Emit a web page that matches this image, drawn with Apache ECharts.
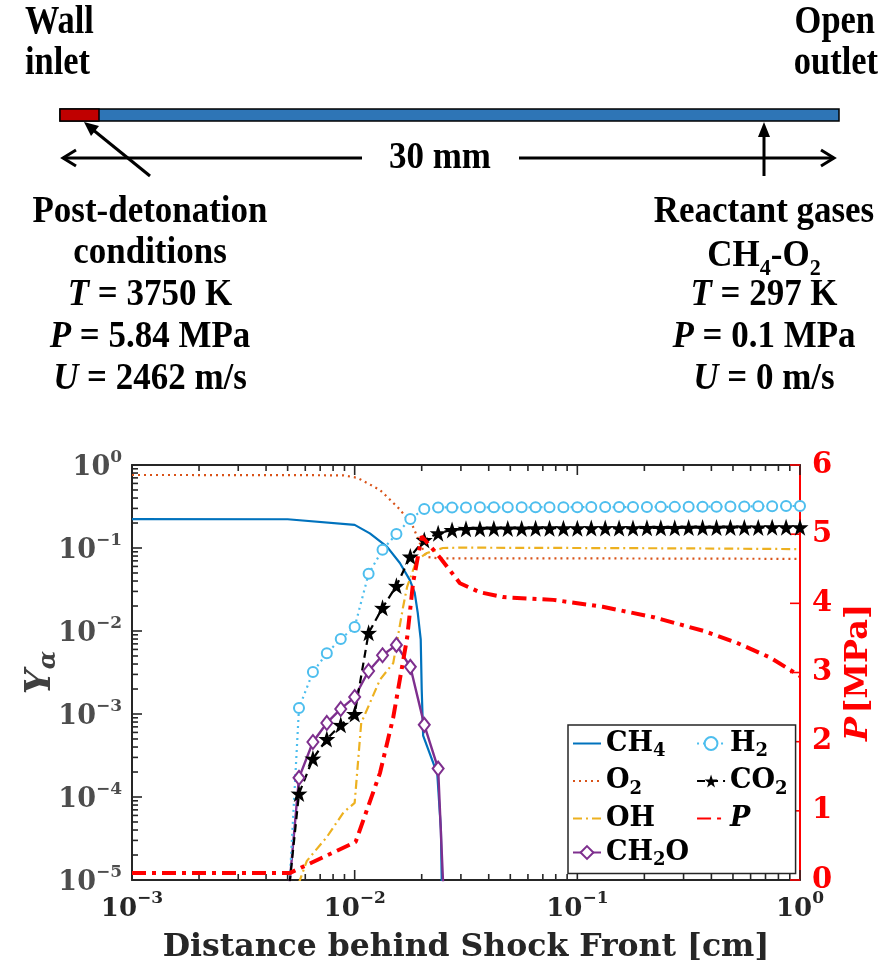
<!DOCTYPE html>
<html><head><meta charset="utf-8">
<script src="https://cdn.jsdelivr.net/npm/echarts@6/dist/echarts.min.js"></script>
<style>html,body{margin:0;padding:0;background:#fff}#c{width:885px;height:969px}</style>
</head><body><div id="c"></div>
<script>
// ---------- data ----------
const xTickExps = [-3, -2, -1, 0];
const yTickExps = [-5, -4, -3, -2, -1, 0];
const pTicks = [0, 1, 2, 3, 4, 5, 6];

const xGrid = [0.005623,0.006494,0.007499,0.008660,0.01,0.01155,0.01334,0.01540,0.01778,0.02054,
  0.02371,0.02738,0.03162,0.03652,0.04217,0.04870,0.05623,0.06494,0.07499,0.08660,
  0.1,0.1155,0.1334,0.1540,0.1778,0.2054,0.2371,0.2738,0.3162,0.3652,
  0.4217,0.4870,0.5623,0.6494,0.7499,0.8660,1.0];

const xCH4 = [0.001,0.005,0.01,0.0117,0.01396,0.01596,0.0177,0.0186,0.0192,0.0198,0.0200,0.0203,0.0235,0.0244,0.0247];
const yCH4 = [0.223,0.222,0.19,0.15,0.104,0.066,0.041,0.029,0.0165,0.0079,0.002,5.5e-4,1.9e-4,4e-5,5e-6];

const xO2 = [0.001,0.005,0.0089,0.0103,0.013,0.016,0.0183,0.0196,0.021,0.024,0.1,1.0];
const yO2 = [0.758,0.756,0.75,0.70,0.50,0.29,0.18,0.115,0.078,0.075,0.075,0.074];

const xOH = [0.0056,0.0061,0.0075,0.0089,0.01,0.0107,0.013,0.0149,0.0165,0.0172,0.019,0.0211,0.0249,0.03,0.1,0.3,1.0];
const yOH = [9e-6,1.7e-5,3.3e-5,6.5e-5,8.5e-5,7.8e-4,2.6e-3,4.1e-3,0.0195,0.034,0.072,0.087,0.100,0.101,0.100,0.099,0.097];

const xCH2O = [0.0051,0.005623,0.006494,0.007499,0.008660,0.01,0.01155,0.01334,0.01540,0.01778,0.02054,0.02371,0.0252];
const yCH2O = [9e-6,1.7e-4,4.6e-4,7.8e-4,1.15e-3,1.6e-3,3.3e-3,5.1e-3,6.8e-3,3.7e-3,7.4e-4,2.2e-4,5e-6];

const xH2 = [0.0051].concat(xGrid);
const yH2 = [9e-6,1.18e-3,3.2e-3,5.4e-3,8.0e-3,0.0112,0.049,0.095,0.147,0.224,0.295,
  0.308,0.308,0.308,0.309,0.309,0.309,0.309,0.310,0.310,0.310,
  0.310,0.311,0.311,0.311,0.312,0.312,0.313,0.313,0.314,0.315,
  0.315,0.316,0.317,0.318,0.319,0.320,0.321];

const xCO2 = [0.0051].concat(xGrid);
const yCO2 = [9e-6,1.1e-4,2.9e-4,5.0e-4,7.4e-4,1.0e-3,9.5e-3,0.019,0.035,0.079,0.125,
  0.151,0.165,0.170,0.171,0.172,0.172,0.172,0.173,0.173,0.173,
  0.173,0.174,0.174,0.174,0.174,0.175,0.175,0.175,0.176,0.176,
  0.176,0.177,0.177,0.177,0.178,0.178,0.178];

const xP = [0.001,0.0051,0.0101,0.013,0.0149,0.0172,0.0183,0.0200,0.0242,0.0297,0.0365,0.0463,0.078,0.13,0.22,0.37,0.52,0.73,1.0];
const yP = [0.1,0.1,0.55,1.55,2.35,3.5,4.3,4.97,4.66,4.29,4.16,4.09,4.05,3.95,3.8,3.6,3.43,3.22,2.95];

// ---------- helpers ----------
const SERIF = '"DejaVu Serif", serif';
const TIMES = '"Liberation Serif", "Times New Roman", serif';
const YMIN = 1e-5, YMAX = 1, XMIN = 0.001, XMAX = 1;
const AX = '#262626', RED = '#ff0000';
function pairs(xs, ys, marked) {
  return xs.map((x, i) => {
    const item = { value: [x, ys[i]] };
    if (!marked || ys[i] < YMIN) item.symbol = 'none';
    return item;
  });
}
function supLabel(v) {
  const e = Math.round(Math.log10(v));
  return '{b|10}{s|' + (e < 0 ? '\u2212' + (-e) : e) + '}';
}
// tick values for the (inward) tick marks, major + minor (2..9 per decade)
const xTickData = [], yTickData = [];
xTickExps.forEach((e, i) => {
  xTickData.push([Math.pow(10, e), YMAX, 10]);
  if (i < xTickExps.length - 1) for (let m = 2; m <= 9; m++) xTickData.push([m * Math.pow(10, e), YMAX, 6]);
});
yTickExps.forEach((e, i) => {
  yTickData.push([XMIN, Math.pow(10, e), 10]);
  if (i < yTickExps.length - 1) for (let m = 2; m <= 9; m++) yTickData.push([XMIN, m * Math.pow(10, e), 6]);
});
const pTickData = pTicks.map(p => [XMAX, p, 10]);

const STAR = 'path://M50,0 L61.8,35.1 L97.6,34.5 L68.8,56.9 L79.4,90.5 L50,70 L20.6,90.5 L31.2,56.9 L2.4,34.5 L38.2,35.1 Z';

function tickLine(x1, y1, x2, y2, color) {
  return { type: 'line', shape: { x1: x1, y1: y1, x2: x2, y2: y2 }, style: { stroke: color, lineWidth: 1.6 } };
}
const tickSeries = [
  { type: 'custom', name: '_xt', xAxisIndex: 0, yAxisIndex: 0, silent: true, clip: false, z: 1, data: xTickData,
    renderItem: (params, api) => {
      const v = api.value(0), len = api.value(2);
      const b = api.coord([v, YMIN]), t = api.coord([v, YMAX]);
      return { type: 'group', children: [tickLine(b[0], b[1], b[0], b[1] - len, AX), tickLine(t[0], t[1], t[0], t[1] + len, AX)] };
    } },
  { type: 'custom', name: '_yt', xAxisIndex: 0, yAxisIndex: 0, silent: true, clip: false, z: 1, data: yTickData,
    renderItem: (params, api) => {
      const v = api.value(1), len = api.value(2);
      const l = api.coord([XMIN, v]);
      return tickLine(l[0], l[1], l[0] + len, l[1], AX);
    } },
  { type: 'custom', name: '_pt', xAxisIndex: 0, yAxisIndex: 2, silent: true, clip: false, z: 1, data: pTickData,
    renderItem: (params, api) => {
      const r = api.coord([XMAX, api.value(1)]), len = api.value(2);
      return tickLine(r[0], r[1], r[0] - len, r[1], RED);
    } }
];

const chart = echarts.init(document.getElementById('c'), null, { renderer: 'canvas' });

function T(x, y, text, align, fs, sx) {
  fs = fs || 38;
  return { type: 'text', x: x, y: y, scaleX: sx || 0.92, silent: true,
    style: { text: text, fontFamily: TIMES, fontWeight: 'bold', fontSize: fs, fill: '#000',
      align: align || 'center', verticalAlign: 'middle',
      rich: { i: { fontFamily: TIMES, fontWeight: 'bold', fontStyle: 'italic', fontSize: fs },
              n: { fontFamily: TIMES, fontWeight: 'bold', fontSize: fs, lineHeight: fs + 12 },
              s: { fontFamily: TIMES, fontWeight: 'bold', fontSize: 24, lineHeight: 24, verticalAlign: 'bottom' } } } };
}
const blk = '#000';
const graphics = [
  { type: 'rect', shape: { x: 60, y: 109, width: 779, height: 12 }, style: { fill: '#2E75B6', stroke: blk, lineWidth: 1.5 } },
  { type: 'rect', shape: { x: 60, y: 109, width: 39, height: 12 }, style: { fill: '#C00000', stroke: blk, lineWidth: 1.5 } },
  { type: 'line', shape: { x1: 63, y1: 158, x2: 362, y2: 158 }, style: { stroke: blk, lineWidth: 3 } },
  { type: 'polyline', shape: { points: [[76, 150], [63, 158], [76, 166]] }, style: { stroke: blk, lineWidth: 3, fill: null } },
  { type: 'line', shape: { x1: 519, y1: 158, x2: 834, y2: 158 }, style: { stroke: blk, lineWidth: 3 } },
  { type: 'polyline', shape: { points: [[821, 150], [834, 158], [821, 166]] }, style: { stroke: blk, lineWidth: 3, fill: null } },
  { type: 'line', shape: { x1: 150, y1: 176, x2: 92, y2: 129 }, style: { stroke: blk, lineWidth: 3 } },
  { type: 'polygon', shape: { points: [[84, 122], [99, 126], [91, 136]] }, style: { fill: blk } },
  { type: 'line', shape: { x1: 764, y1: 176, x2: 764, y2: 132 }, style: { stroke: blk, lineWidth: 3 } },
  { type: 'polygon', shape: { points: [[764, 122], [758, 137], [770, 137]] }, style: { fill: blk } },
  T(25, 22, 'Wall', 'left', 41, 0.84), T(25, 63, 'inlet', 'left', 41, 0.84),
  T(875, 22, 'Open', 'right', 41, 0.84), T(878, 63, 'outlet', 'right', 41, 0.84),
  T(440, 158, '30 mm'),
  T(150, 212, 'Post-detonation'), T(150, 253, 'conditions'),
  T(150, 295, '{i|T} = 3750 K'), T(150, 337, '{i|P} = 5.84 MPa'), T(150, 379, '{i|U} = 2462 m/s'),
  T(764, 212, 'Reactant gases'), T(764, 256, '{n|CH}{s|4}{n|-O}{s|2}'),
  T(764, 295, '{i|T} = 297 K'), T(764, 337, '{i|P} = 0.1 MPa'), T(764, 379, '{i|U} = 0 m/s')
];

const legendLabels = {
  CH4: '{n|CH}{s|4}', O2: '{n|O}{s|2}', OH: '{n|OH}', CH2O: '{n|CH}{s|2}{n|O}',
  H2: '{n|H}{s|2}', CO2: '{n|CO}{s|2}', P: '{i|P}'
};
const noMark = { itemStyle: { opacity: 0 } };

const lineSeries = (name, xs, ys, color, type, width, extra) => Object.assign({
  name: name, type: 'line', xAxisIndex: 0, yAxisIndex: 0,
  data: pairs(xs, ys, extra && extra.symbol && extra.symbol !== 'none'),
  showSymbol: true, showAllSymbol: true, symbol: 'none', smooth: false, clip: true, z: 3,
  lineStyle: { color: color, width: width, type: type },
  itemStyle: { color: color }, emphasis: { disabled: true }, animation: false
}, extra || {});

function logAxisBase(min, max, pos) {
  return { type: 'log', logBase: 10, min: min, max: max, position: pos, gridIndex: 0,
    axisLine: { show: true, onZero: false, lineStyle: { color: AX, width: 2 } },
    axisTick: { show: false }, minorTick: { show: false }, splitLine: { show: false } };
}

const option = {
  animation: false,
  backgroundColor: '#fff',
  graphic: graphics,
  grid: { left: 132, right: 85, top: 465, bottom: 89, containLabel: false, outerBoundsMode: 'none' },
  legend: {
    orient: 'vertical', left: 568, top: 725, height: 150,
    padding: [5, 8, 4, 4], itemGap: 7, itemWidth: 28, itemHeight: 16,
    backgroundColor: '#fff', borderColor: AX, borderWidth: 1.5, borderRadius: 0,
    data: [Object.assign({ name: 'CH4' }, noMark), Object.assign({ name: 'O2' }, noMark),
           Object.assign({ name: 'OH' }, noMark), { name: 'CH2O' }, { name: 'H2' }, { name: 'CO2' },
           Object.assign({ name: 'P' }, noMark)],
    formatter: n => legendLabels[n],
    textStyle: { fontFamily: SERIF, fontWeight: 'bold', fontSize: 27, color: '#000',
      rich: { n: { fontFamily: SERIF, fontWeight: 'bold', fontSize: 27, lineHeight: 34 },
              i: { fontFamily: SERIF, fontWeight: 'bold', fontStyle: 'italic', fontSize: 27, lineHeight: 34 },
              s: { fontFamily: SERIF, fontWeight: 'bold', fontSize: 18, lineHeight: 18, verticalAlign: 'bottom' } } }
  },
  xAxis: [
    Object.assign(logAxisBase(XMIN, XMAX, 'bottom'), {
      axisLabel: { show: true, margin: 10, formatter: supLabel, color: AX,
        rich: { b: { fontFamily: SERIF, fontWeight: 'bold', fontSize: 26, lineHeight: 32, color: AX, verticalAlign: 'bottom' },
                s: { fontFamily: SERIF, fontWeight: 'bold', fontSize: 17, lineHeight: 17, color: AX, verticalAlign: 'top' } } },
      name: 'Distance behind Shock Front [cm]', nameLocation: 'middle', nameGap: 52, nameMoveOverlap: false,
      nameTextStyle: { fontFamily: SERIF, fontWeight: 'bold', fontSize: 31.5, color: AX, verticalAlign: 'top' }
    }),
    Object.assign(logAxisBase(XMIN, XMAX, 'top'), { axisLabel: { show: false } })
  ],
  yAxis: [
    Object.assign(logAxisBase(YMIN, YMAX, 'left'), {
      axisLabel: { show: true, margin: 10, formatter: supLabel,
        rich: { b: { fontFamily: SERIF, fontWeight: 'bold', fontSize: 27, lineHeight: 32, color: '#4d4d4d', verticalAlign: 'bottom' },
                s: { fontFamily: SERIF, fontWeight: 'bold', fontSize: 17, lineHeight: 17, color: '#4d4d4d', verticalAlign: 'top' } } },
      name: '{y|Y}{a|\u03b1}', nameLocation: 'middle', nameRotate: 90, nameGap: 71, nameMoveOverlap: false,
      nameTextStyle: { rich: {
        y: { fontFamily: SERIF, fontWeight: 'bold', fontStyle: 'italic', fontSize: 35, lineHeight: 40, color: '#404040' },
        a: { fontFamily: SERIF, fontWeight: 'bold', fontStyle: 'italic', fontSize: 24, lineHeight: 24, color: '#404040', verticalAlign: 'bottom' } } }
    }),
    Object.assign(logAxisBase(YMIN, YMAX, 'right'), { axisLine: { show: false }, axisLabel: { show: false } }),
    {
      type: 'value', min: pTicks[0], max: pTicks[pTicks.length - 1], interval: 1, position: 'right', gridIndex: 0,
      axisLine: { show: true, onZero: false, lineStyle: { color: RED, width: 2 } },
      axisTick: { show: false },
      axisLabel: { show: true, margin: 12, color: RED, fontFamily: SERIF, fontWeight: 'bold', fontSize: 29 },
      splitLine: { show: false },
      name: '{i|P} {n|[MPa]}', nameLocation: 'middle', nameRotate: 90, nameGap: 36,
      nameTextStyle: { color: RED, rich: {
        i: { fontFamily: SERIF, fontWeight: 'bold', fontStyle: 'italic', fontSize: 32, color: RED },
        n: { fontFamily: SERIF, fontWeight: 'bold', fontSize: 32, color: RED } } }
    }
  ],
  series: [
    lineSeries('CH4', xCH4, yCH4, '#0072BD', 'solid', 2.2),
    lineSeries('O2', xO2, yO2, '#D95319', [2, 4], 2.2),
    lineSeries('OH', xOH, yOH, '#EDB120', [9, 4, 2, 4], 2.2),
    lineSeries('CH2O', xCH2O, yCH2O, '#7E2F8E', 'solid', 2.4,
      { symbol: 'emptyDiamond', symbolSize: [11, 14], itemStyle: { color: '#7E2F8E', borderWidth: 2 } }),
    lineSeries('H2', xH2, yH2, '#4DBEEE', [2, 4], 2.2,
      { symbol: 'emptyCircle', symbolSize: 10, itemStyle: { color: '#4DBEEE', borderWidth: 2.2 } }),
    lineSeries('CO2', xCO2, yCO2, '#000000', [8, 5], 2.2,
      { symbol: STAR, symbolSize: 17, itemStyle: { color: '#000' } }),
    Object.assign(lineSeries('P', xP, yP, RED, [14, 6, 4, 6], 4), { yAxisIndex: 2, z: 5 })
  ].concat(tickSeries)
};
chart.setOption(option);
</script></body></html>
